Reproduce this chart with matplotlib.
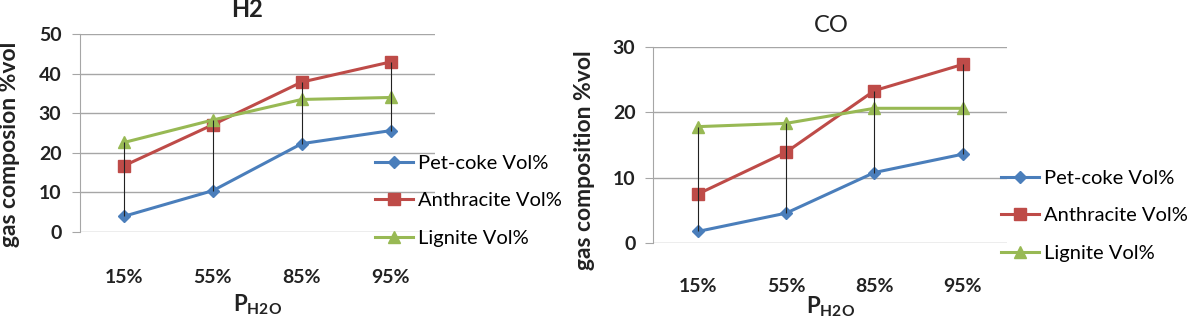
import numpy as np
import matplotlib.pyplot as plt

# P_H2O categories
categories = ['15%', '55%', '85%', '95%']

# H2 composition (%vol)
h2_petcoke = [3.9, 10.4, 22.3, 25.6]
h2_anthracite = [16.7, 27.1, 37.9, 43.0]
h2_lignite = [22.6, 28.3, 33.5, 34.0]

# CO composition (%vol)
co_petcoke = [1.8, 4.6, 10.8, 13.6]
co_anthracite = [7.5, 13.9, 23.3, 27.3]
co_lignite = [17.8, 18.3, 20.6, 20.6]

labels = ['Pet-coke Vol%', 'Anthracite Vol%', 'Lignite Vol%']
colors = ['#4a7ebb', '#be4b48', '#98b954']
markers = ['D', 's', '^']
msizes = [6, 8, 9]

plt.rcParams['font.family'] = ['Lato', 'DejaVu Sans']
plt.rcParams['mathtext.fontset'] = 'custom'
plt.rcParams['mathtext.rm'] = 'Lato'
plt.rcParams['mathtext.bf'] = 'Lato:bold'

W, H = 1203, 321
fig = plt.figure(figsize=(W / 100, H / 100), dpi=100)
txt = '#222222'

# axes rectangles [left, bottom, width, height] in figure fractions
rects = [[0.0661, 0.2782, 0.2955, 0.6149],
         [0.5432, 0.2421, 0.2939, 0.6124]]
titles = ['H2', 'CO']
title_xy = [(247, 17), (831, 32)]
title_weight = ['bold', 'normal']
ylabels = ['gas composion %vol', 'gas composition %vol']
ylabel_xy = [(-0.167, 0.444), (-0.165, 0.424)]
xlabel_y = [-0.31, -0.262]
xtick_pad = [27, 25]
ylims = [50, 30]
series = [[h2_petcoke, h2_anthracite, h2_lignite],
          [co_petcoke, co_anthracite, co_lignite]]
legend_pos = [(375 / W, 1 - 155 / H), (1001 / W, 1 - 170 / H)]

for k in range(2):
    ax = fig.add_axes(rects[k])
    x = np.arange(len(categories))
    data = series[k]

    # high-low lines
    lo = np.min(np.array(data), axis=0)
    hi = np.max(np.array(data), axis=0)
    ax.vlines(x, lo, hi, color='#222222', lw=0.8, zorder=4)

    for vals, lab, c, m, ms in zip(data, labels, colors, markers, msizes):
        ax.plot(x, vals, color=c, lw=2.2, marker=m, ms=ms,
                markeredgecolor=c, label=lab, zorder=3)

    ax.set_xlim(-0.5, len(categories) - 0.5)
    ax.set_ylim(0, ylims[k])
    ax.set_yticks(np.arange(0, ylims[k] + 1, 10))
    ax.set_xticks(x)
    ax.set_xticklabels(categories)
    ax.yaxis.grid(True, color='#a6a6a6', lw=1)
    ax.set_axisbelow(True)
    for s in ['top', 'right', 'bottom']:
        ax.spines[s].set_visible(False)
    ax.spines['left'].set_color('#a6a6a6')
    ax.tick_params(axis='y', length=6, color='#a6a6a6', labelsize=14,
                   pad=7)
    ax.tick_params(axis='x', length=0, labelsize=14, pad=xtick_pad[k])
    for t in ax.get_xticklabels() + ax.get_yticklabels():
        t.set_fontweight('bold')
        t.set_color(txt)

    tx, ty = title_xy[k]
    fig.text(tx / W, 1 - ty / H, titles[k], fontsize=17, ha='center',
             va='baseline', color=txt, fontweight=title_weight[k])
    ax.set_ylabel(ylabels[k], fontsize=16.5, fontweight='bold', color=txt)
    ax.yaxis.set_label_coords(*ylabel_xy[k])
    ax.set_xlabel(r'P$_{\mathbf{H2O}}$', fontsize=16, fontweight='bold',
                  color=txt)
    ax.xaxis.set_label_coords(0.5, xlabel_y[k])

    fig.legend(*ax.get_legend_handles_labels(), loc='upper left',
               bbox_to_anchor=legend_pos[k], frameon=False, fontsize=14.5,
               handlelength=1.9, handletextpad=0.25, labelspacing=1.0,
               borderpad=0, borderaxespad=0)

plt.savefig('out.png', dpi=100)
